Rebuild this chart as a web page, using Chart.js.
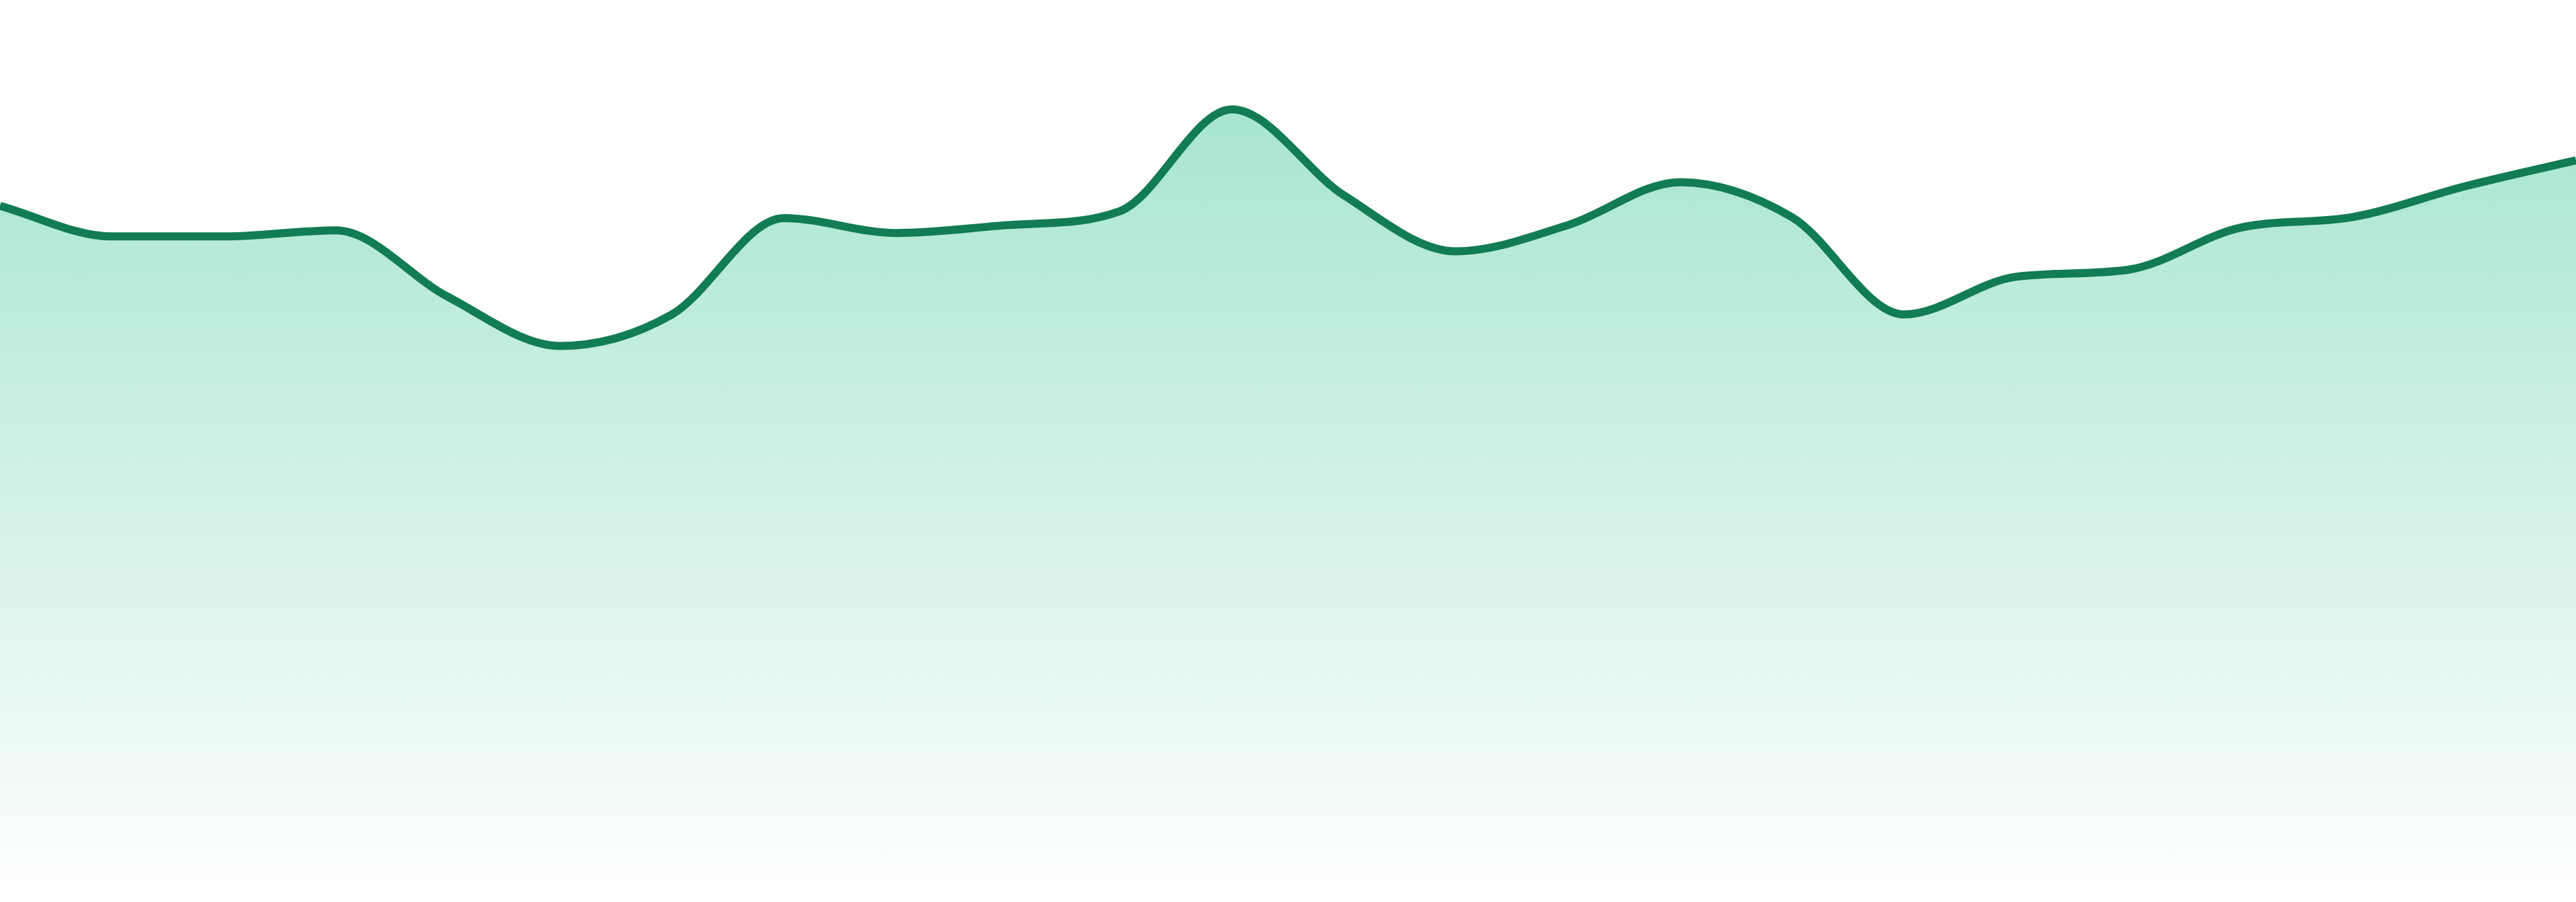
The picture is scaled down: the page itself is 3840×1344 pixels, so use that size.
<!DOCTYPE html>
<html>
<head>
<meta charset="utf-8">
<script src="https://cdn.jsdelivr.net/npm/chart.js@4.4.1/dist/chart.umd.min.js"></script>
<style>
  html, body { margin: 0; padding: 0; background: #ffffff; overflow: hidden; }
  #grafico { display: block; width: 3840px; height: 1344px; }
</style>
</head>
<body>
<canvas id="grafico" width="3840" height="1344"></canvas>
<script>
// Dados (24 pontos, sem eixos visíveis)
const rotulos = ['1', '2', '3', '4', '5', '6', '7', '8', '9', '10', '11', '12',
                 '13', '14', '15', '16', '17', '18', '19', '20', '21', '22', '23', '24'];
const valores = [76.5, 73.0, 73.0, 73.7, 66.1, 60.5, 64.1, 75.1, 73.4, 74.3, 75.9, 87.5,
                 77.7, 71.3, 74.3, 79.2, 75.2, 64.1, 68.4, 69.2, 74.0, 75.2, 78.7, 81.7];
const limitesY = [0, 100];

const corLinha = '#127c54';

// Gradiente vertical do preenchimento, do topo da área do gráfico até a base
function gradienteFundo(context) {
    const { chart } = context;
    const area = chart.chartArea;
    if (!area) return 'rgba(16, 185, 129, 0.2)';
    const g = chart.ctx.createLinearGradient(0, area.top, 0, area.bottom);
    g.addColorStop(0, 'rgba(16, 185, 129, 0.42)');
    g.addColorStop(1, 'rgba(16, 185, 129, 0.01)');
    return g;
}

const ctx = document.getElementById('grafico').getContext('2d');
new Chart(ctx, {
    type: 'line',
    data: {
        labels: rotulos,
        datasets: [{
            data: valores,
            borderColor: corLinha,
            borderWidth: 12,
            backgroundColor: gradienteFundo,
            fill: 'start',
            cubicInterpolationMode: 'monotone',
            pointRadius: 0,
            pointHoverRadius: 0
        }]
    },
    options: {
        responsive: false,
        animation: false,
        devicePixelRatio: 1,
        layout: { padding: { top: 0, left: 0, right: 0, bottom: 39 } },
        scales: {
            x: { display: false, offset: false },
            y: { display: false, min: limitesY[0], max: limitesY[1] }
        },
        plugins: {
            legend: { display: false },
            tooltip: { enabled: false },
            title: { display: false }
        }
    }
});
</script>
</body>
</html>
